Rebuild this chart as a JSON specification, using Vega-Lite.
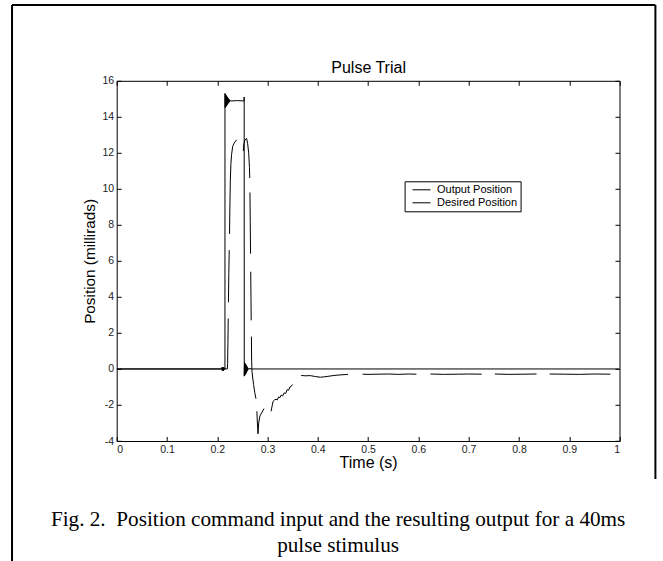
{
  "$schema": "https://vega.github.io/schema/vega-lite/v6.json",
  "width": 502.8,
  "height": 360.2,
  "autosize": {"type": "none"},
  "padding": {"left": 116.7, "top": 80.8, "right": 43.5, "bottom": 120},
  "background": "white",
  "title": {
    "text": ["Fig. 2.\u00a0 Position command input and the resulting output for a 40ms", "pulse stimulus"],
    "orient": "bottom",
    "anchor": "middle",
    "frame": "group",
    "font": "Liberation Serif",
    "fontSize": 21.2,
    "fontWeight": "normal",
    "lineHeight": 25.7,
    "color": "black",
    "dx": -30,
    "offset": -55
  },
  "config": {
    "view": {"stroke": "black", "strokeWidth": 1},
    "axis": {
      "domain": false,
      "grid": false,
      "tickColor": "black",
      "tickWidth": 1,
      "tickSize": -4.5,
      "labelFont": "Liberation Sans",
      "labelFontSize": 10.5,
      "labelColor": "#222",
      "titleFont": "Liberation Sans",
      "titleFontSize": 16,
      "titleFontWeight": "normal",
      "titleColor": "black"
    },
    "legend": {
      "orient": "none",
      "legendX": 287.9,
      "legendY": 100.5,
      "strokeColor": "black",
      "fillColor": "white",
      "padding": 3,
      "clipHeight": 11,
      "symbolOffset": 4.4,
      "symbolType": "stroke",
      "symbolSize": 324,
      "symbolStrokeWidth": 1,
      "labelFont": "Liberation Sans",
      "labelFontSize": 11,
      "labelColor": "black",
      "labelOffset": 6,
      "rowPadding": 1
    }
  },
  "resolve": {"axis": {"x": "independent", "y": "independent"}},
  "layer": [
    {
      "data": {
        "values": [
          {"t": 0, "pos": 0, "series": "Desired Position", "seg": "d"},
          {"t": 0.209, "pos": 0, "series": "Desired Position", "seg": "d"},
          {"t": 0.2094, "pos": 0.09, "series": "Desired Position", "seg": "d"},
          {"t": 0.21, "pos": -0.09, "series": "Desired Position", "seg": "d"},
          {"t": 0.2106, "pos": 0.09, "series": "Desired Position", "seg": "d"},
          {"t": 0.2112, "pos": -0.09, "series": "Desired Position", "seg": "d"},
          {"t": 0.2118, "pos": 0.09, "series": "Desired Position", "seg": "d"},
          {"t": 0.2124, "pos": -0.09, "series": "Desired Position", "seg": "d"},
          {"t": 0.213, "pos": 0.09, "series": "Desired Position", "seg": "d"},
          {"t": 0.2136, "pos": -0.05, "series": "Desired Position", "seg": "d"},
          {"t": 0.2142, "pos": 0.03, "series": "Desired Position", "seg": "d"},
          {"t": 0.2153, "pos": 0, "series": "Desired Position", "seg": "d"},
          {"t": 0.21535, "pos": 15.3, "series": "Desired Position", "seg": "d"},
          {"t": 0.2158, "pos": 14.5, "series": "Desired Position", "seg": "d"},
          {"t": 0.2164, "pos": 15.25, "series": "Desired Position", "seg": "d"},
          {"t": 0.217, "pos": 14.55, "series": "Desired Position", "seg": "d"},
          {"t": 0.2176, "pos": 15.2, "series": "Desired Position", "seg": "d"},
          {"t": 0.2182, "pos": 14.6, "series": "Desired Position", "seg": "d"},
          {"t": 0.2188, "pos": 15.15, "series": "Desired Position", "seg": "d"},
          {"t": 0.2194, "pos": 14.65, "series": "Desired Position", "seg": "d"},
          {"t": 0.22, "pos": 15.1, "series": "Desired Position", "seg": "d"},
          {"t": 0.2206, "pos": 14.7, "series": "Desired Position", "seg": "d"},
          {"t": 0.2212, "pos": 15.05, "series": "Desired Position", "seg": "d"},
          {"t": 0.2218, "pos": 14.75, "series": "Desired Position", "seg": "d"},
          {"t": 0.2224, "pos": 15.0, "series": "Desired Position", "seg": "d"},
          {"t": 0.223, "pos": 14.8, "series": "Desired Position", "seg": "d"},
          {"t": 0.2236, "pos": 14.97, "series": "Desired Position", "seg": "d"},
          {"t": 0.2242, "pos": 14.83, "series": "Desired Position", "seg": "d"},
          {"t": 0.225, "pos": 14.92, "series": "Desired Position", "seg": "d"},
          {"t": 0.227, "pos": 14.88, "series": "Desired Position", "seg": "d"},
          {"t": 0.24, "pos": 14.9, "series": "Desired Position", "seg": "d"},
          {"t": 0.2535, "pos": 14.88, "series": "Desired Position", "seg": "d"},
          {"t": 0.25352, "pos": 15.1, "series": "Desired Position", "seg": "d"},
          {"t": 0.25355, "pos": 14.7, "series": "Desired Position", "seg": "d"},
          {"t": 0.2537, "pos": -0.4, "series": "Desired Position", "seg": "d"},
          {"t": 0.2543, "pos": 0.35, "series": "Desired Position", "seg": "d"},
          {"t": 0.2549, "pos": -0.35, "series": "Desired Position", "seg": "d"},
          {"t": 0.2555, "pos": 0.3, "series": "Desired Position", "seg": "d"},
          {"t": 0.2561, "pos": -0.3, "series": "Desired Position", "seg": "d"},
          {"t": 0.2567, "pos": 0.25, "series": "Desired Position", "seg": "d"},
          {"t": 0.2573, "pos": -0.25, "series": "Desired Position", "seg": "d"},
          {"t": 0.2579, "pos": 0.2, "series": "Desired Position", "seg": "d"},
          {"t": 0.2585, "pos": -0.18, "series": "Desired Position", "seg": "d"},
          {"t": 0.2591, "pos": 0.14, "series": "Desired Position", "seg": "d"},
          {"t": 0.2597, "pos": -0.11, "series": "Desired Position", "seg": "d"},
          {"t": 0.2603, "pos": 0.08, "series": "Desired Position", "seg": "d"},
          {"t": 0.2609, "pos": -0.05, "series": "Desired Position", "seg": "d"},
          {"t": 0.262, "pos": 0.02, "series": "Desired Position", "seg": "d"},
          {"t": 0.27, "pos": 0, "series": "Desired Position", "seg": "d"},
          {"t": 1.0, "pos": 0, "series": "Desired Position", "seg": "d"},

          {"t": 0, "pos": 0, "series": "Output Position", "seg": "o1"},
          {"t": 0.22, "pos": 0, "series": "Output Position", "seg": "o1"},
          {"t": 0.2206, "pos": 0.3, "series": "Output Position", "seg": "o1"},
          {"t": 0.2212, "pos": 1.4, "series": "Output Position", "seg": "o1"},
          {"t": 0.2218, "pos": 2.8, "series": "Output Position", "seg": "o1"},
          {"t": 0.2222, "pos": 3.7, "series": "Output Position", "seg": "o2"},
          {"t": 0.223, "pos": 5.3, "series": "Output Position", "seg": "o2"},
          {"t": 0.2238, "pos": 6.6, "series": "Output Position", "seg": "o2"},
          {"t": 0.2244, "pos": 7.5, "series": "Output Position", "seg": "o3"},
          {"t": 0.2252, "pos": 9.2, "series": "Output Position", "seg": "o3"},
          {"t": 0.226, "pos": 10.5, "series": "Output Position", "seg": "o3"},
          {"t": 0.2272, "pos": 11.4, "series": "Output Position", "seg": "o3"},
          {"t": 0.2285, "pos": 11.9, "series": "Output Position", "seg": "o3"},
          {"t": 0.2306, "pos": 12.35, "series": "Output Position", "seg": "o3"},
          {"t": 0.233, "pos": 12.5, "series": "Output Position", "seg": "o3"},
          {"t": 0.235, "pos": 12.6, "series": "Output Position", "seg": "o3"},
          {"t": 0.2386, "pos": 12.72, "series": "Output Position", "seg": "o3"},
          {"t": 0.2518, "pos": 12.1, "series": "Output Position", "seg": "o4"},
          {"t": 0.253, "pos": 12.5, "series": "Output Position", "seg": "o4"},
          {"t": 0.255, "pos": 12.72, "series": "Output Position", "seg": "o4"},
          {"t": 0.2584, "pos": 12.8, "series": "Output Position", "seg": "o4"},
          {"t": 0.2605, "pos": 12.5, "series": "Output Position", "seg": "o4"},
          {"t": 0.2625, "pos": 12.0, "series": "Output Position", "seg": "o4"},
          {"t": 0.264, "pos": 11.2, "series": "Output Position", "seg": "o4"},
          {"t": 0.2646, "pos": 10.6, "series": "Output Position", "seg": "o4"},
          {"t": 0.265, "pos": 9.8, "series": "Output Position", "seg": "o5"},
          {"t": 0.2656, "pos": 8.2, "series": "Output Position", "seg": "o5"},
          {"t": 0.2662, "pos": 6.4, "series": "Output Position", "seg": "o5"},
          {"t": 0.2666, "pos": 5.4, "series": "Output Position", "seg": "o6"},
          {"t": 0.2671, "pos": 3.9, "series": "Output Position", "seg": "o6"},
          {"t": 0.2675, "pos": 2.7, "series": "Output Position", "seg": "o6"},
          {"t": 0.2679, "pos": 1.8, "series": "Output Position", "seg": "o7"},
          {"t": 0.2684, "pos": 0.4, "series": "Output Position", "seg": "o7"},
          {"t": 0.2692, "pos": -0.15, "series": "Output Position", "seg": "o7"},
          {"t": 0.2703, "pos": -0.45, "series": "Output Position", "seg": "o7"},
          {"t": 0.2722, "pos": -0.85, "series": "Output Position", "seg": "o7"},
          {"t": 0.2745, "pos": -1.3, "series": "Output Position", "seg": "o7"},
          {"t": 0.277, "pos": -1.65, "series": "Output Position", "seg": "o7"},
          {"t": 0.2788, "pos": -2.35, "series": "Output Position", "seg": "o8"},
          {"t": 0.2798, "pos": -3.0, "series": "Output Position", "seg": "o8"},
          {"t": 0.281, "pos": -3.6, "series": "Output Position", "seg": "o8"},
          {"t": 0.2826, "pos": -2.95, "series": "Output Position", "seg": "o8"},
          {"t": 0.285, "pos": -2.6, "series": "Output Position", "seg": "o8"},
          {"t": 0.288, "pos": -2.45, "series": "Output Position", "seg": "o8"},
          {"t": 0.293, "pos": -2.2, "series": "Output Position", "seg": "o8"},
          {"t": 0.307, "pos": -2.35, "series": "Output Position", "seg": "o9"},
          {"t": 0.3095, "pos": -2.0, "series": "Output Position", "seg": "o9"},
          {"t": 0.311, "pos": -1.8, "series": "Output Position", "seg": "o9"},
          {"t": 0.314, "pos": -1.72, "series": "Output Position", "seg": "o9"},
          {"t": 0.317, "pos": -1.68, "series": "Output Position", "seg": "o9"},
          {"t": 0.3195, "pos": -1.72, "series": "Output Position", "seg": "o9"},
          {"t": 0.322, "pos": -1.55, "series": "Output Position", "seg": "o9"},
          {"t": 0.3245, "pos": -1.6, "series": "Output Position", "seg": "o9"},
          {"t": 0.327, "pos": -1.45, "series": "Output Position", "seg": "o9"},
          {"t": 0.33, "pos": -1.5, "series": "Output Position", "seg": "o9"},
          {"t": 0.333, "pos": -1.33, "series": "Output Position", "seg": "o9"},
          {"t": 0.336, "pos": -1.36, "series": "Output Position", "seg": "o9"},
          {"t": 0.339, "pos": -1.15, "series": "Output Position", "seg": "o9"},
          {"t": 0.342, "pos": -1.18, "series": "Output Position", "seg": "o9"},
          {"t": 0.3445, "pos": -1.0, "series": "Output Position", "seg": "o9"},
          {"t": 0.347, "pos": -0.97, "series": "Output Position", "seg": "o9"},
          {"t": 0.3495, "pos": -0.86, "series": "Output Position", "seg": "o9"},
          {"t": 0.367, "pos": -0.36, "series": "Output Position", "seg": "o10"},
          {"t": 0.375, "pos": -0.38, "series": "Output Position", "seg": "o10"},
          {"t": 0.385, "pos": -0.37, "series": "Output Position", "seg": "o10"},
          {"t": 0.395, "pos": -0.42, "series": "Output Position", "seg": "o10"},
          {"t": 0.405, "pos": -0.46, "series": "Output Position", "seg": "o10"},
          {"t": 0.412, "pos": -0.44, "series": "Output Position", "seg": "o10"},
          {"t": 0.42, "pos": -0.41, "series": "Output Position", "seg": "o10"},
          {"t": 0.43, "pos": -0.37, "series": "Output Position", "seg": "o10"},
          {"t": 0.44, "pos": -0.34, "series": "Output Position", "seg": "o10"},
          {"t": 0.45, "pos": -0.32, "series": "Output Position", "seg": "o10"},
          {"t": 0.46, "pos": -0.3, "series": "Output Position", "seg": "o10"},
          {"t": 0.489, "pos": -0.29, "series": "Output Position", "seg": "o11"},
          {"t": 0.5, "pos": -0.3, "series": "Output Position", "seg": "o11"},
          {"t": 0.52, "pos": -0.29, "series": "Output Position", "seg": "o11"},
          {"t": 0.54, "pos": -0.28, "series": "Output Position", "seg": "o11"},
          {"t": 0.56, "pos": -0.3, "series": "Output Position", "seg": "o11"},
          {"t": 0.58, "pos": -0.28, "series": "Output Position", "seg": "o11"},
          {"t": 0.596, "pos": -0.29, "series": "Output Position", "seg": "o11"},
          {"t": 0.624, "pos": -0.28, "series": "Output Position", "seg": "o12"},
          {"t": 0.65, "pos": -0.3, "series": "Output Position", "seg": "o12"},
          {"t": 0.68, "pos": -0.29, "series": "Output Position", "seg": "o12"},
          {"t": 0.7, "pos": -0.28, "series": "Output Position", "seg": "o12"},
          {"t": 0.726, "pos": -0.29, "series": "Output Position", "seg": "o12"},
          {"t": 0.752, "pos": -0.28, "series": "Output Position", "seg": "o13"},
          {"t": 0.78, "pos": -0.3, "series": "Output Position", "seg": "o13"},
          {"t": 0.81, "pos": -0.29, "series": "Output Position", "seg": "o13"},
          {"t": 0.835, "pos": -0.28, "series": "Output Position", "seg": "o13"},
          {"t": 0.861, "pos": -0.28, "series": "Output Position", "seg": "o14"},
          {"t": 0.89, "pos": -0.29, "series": "Output Position", "seg": "o14"},
          {"t": 0.92, "pos": -0.3, "series": "Output Position", "seg": "o14"},
          {"t": 0.95, "pos": -0.28, "series": "Output Position", "seg": "o14"},
          {"t": 0.982, "pos": -0.29, "series": "Output Position", "seg": "o14"}
        ]
      },
      "mark": {"type": "line", "strokeWidth": 1, "clip": true},
      "encoding": {
        "x": {
          "field": "t", "type": "quantitative",
          "scale": {"domain": [0, 1], "nice": false, "zero": false},
          "axis": {
            "orient": "bottom",
            "values": [0, 0.1, 0.2, 0.3, 0.4, 0.5, 0.6, 0.7, 0.8, 0.9, 1],
            "labelExpr": "'' + datum.value",
            "labelPadding": 7.5,
            "title": "Time (s)",
            "titlePadding": 0
          }
        },
        "y": {
          "field": "pos", "type": "quantitative",
          "scale": {"domain": [-4, 16], "nice": false, "zero": false},
          "axis": {
            "orient": "left",
            "values": [-4, -2, 0, 2, 4, 6, 8, 10, 12, 14, 16],
            "labelExpr": "'' + datum.value",
            "labelPadding": 7.5,
            "title": "Position (millirads)",
            "titleFontSize": 15.3,
            "titlePadding": 5
          }
        },
        "color": {
          "field": "series", "type": "nominal",
          "scale": {"domain": ["Output Position", "Desired Position"], "range": ["black", "black"]},
          "legend": {"title": null, "labelExpr": "datum.label + '\u00a0\u00a0'"}
        },
        "detail": {"field": "seg"}
      }
    },
    {
      "data": {"values": [{}]},
      "mark": {"type": "rule", "clip": false, "strokeWidth": 2, "color": "black"},
      "encoding": {
        "x": {
          "datum": -0.2082, "type": "quantitative",
          "scale": {"domain": [0, 1], "nice": false, "zero": false},
          "axis": {
            "orient": "top",
            "values": [0, 0.1, 0.2, 0.3, 0.4, 0.5, 0.6, 0.7, 0.8, 0.9, 1],
            "labels": false,
            "title": "Pulse Trial",
            "titlePadding": 5
          }
        },
        "y": {
          "datum": 20.21, "type": "quantitative",
          "scale": {"domain": [-4, 16], "nice": false, "zero": false},
          "axis": {
            "orient": "right",
            "values": [-4, -2, 0, 2, 4, 6, 8, 10, 12, 14, 16],
            "labels": false,
            "title": null
          }
        },
        "y2": {"datum": -10.8}
      }
    },
    {
      "data": {"values": [{}]},
      "mark": {"type": "rule", "clip": false, "strokeWidth": 2, "color": "black"},
      "encoding": {
        "x": {"datum": 1.0714, "type": "quantitative", "scale": {"domain": [0, 1], "nice": false, "zero": false}, "axis": null},
        "y": {"datum": 20.21, "type": "quantitative", "scale": {"domain": [-4, 16], "nice": false, "zero": false}, "axis": null},
        "y2": {"datum": -6.11}
      }
    },
    {
      "data": {"values": [{}]},
      "mark": {"type": "rule", "clip": false, "strokeWidth": 2, "color": "black"},
      "encoding": {
        "x": {"datum": -0.2082, "type": "quantitative", "scale": {"domain": [0, 1], "nice": false, "zero": false}, "axis": null},
        "x2": {"datum": 1.0714},
        "y": {"datum": 20.21, "type": "quantitative", "scale": {"domain": [-4, 16], "nice": false, "zero": false}, "axis": null}
      }
    }
  ]
}
